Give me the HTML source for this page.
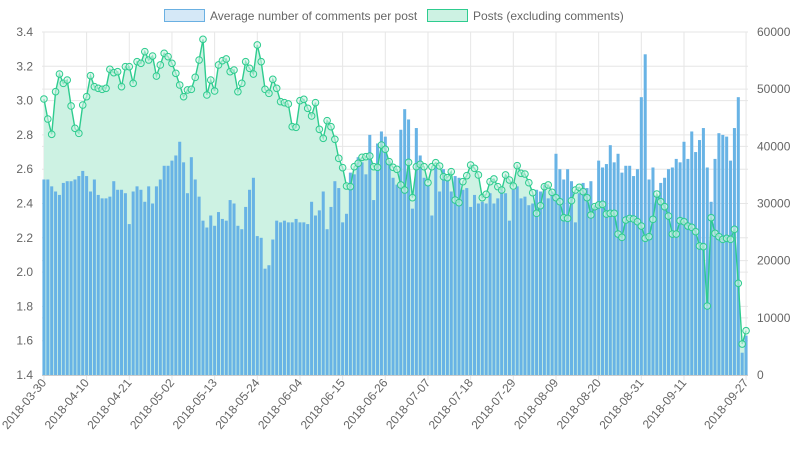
<!DOCTYPE html>
<html><head><meta charset="utf-8">
<style>
html,body{margin:0;padding:0;background:#fff;}
svg{display:block;font-family:"Liberation Sans",Arial,sans-serif;}
</style></head>
<body>
<svg id="chart" width="798" height="450" viewBox="0 0 798 450" xmlns="http://www.w3.org/2000/svg">
  <g id="legend">
    <g>
      <rect x="164.5" y="9.5" width="40" height="12" fill="#d5e8f7" stroke="#6ab0e2" stroke-width="1"></rect>
      <text x="210" y="20" font-size="12" fill="#666">Average number of comments per post</text>
    </g>
    <g>
      <rect x="427.5" y="9.5" width="40" height="12" fill="#cdf2e3" stroke="#2ecc8f" stroke-width="1"></rect>
      <text x="473" y="20" font-size="12" fill="#666">Posts (excluding comments)</text>
    </g>
  </g>
  <g id="grid"></g>
  <g id="fill"></g>
  <g id="bars"></g>
  <g id="line"></g>
  <g id="axes"></g>
</svg>
<script>
const startDate = "2018-03-30";
const avgComments = [
2.54,2.54,2.50,2.47,2.45,2.52,2.53,2.53,2.54,2.56,2.59,2.56,2.47,2.54,2.45,2.43,2.43,2.44,2.53,2.48,2.48,2.46,2.28,2.47,2.50,2.48,2.41,2.50,2.40,2.50,2.54,
2.62,2.62,2.65,2.68,2.76,2.64,2.46,2.67,2.54,2.44,2.30,2.26,2.33,2.27,2.35,2.31,2.30,2.42,2.40,2.27,2.25,2.38,2.48,2.55,2.21,2.20,2.02,2.04,2.19,2.30,2.29,
2.30,2.29,2.29,2.31,2.29,2.29,2.28,2.41,2.33,2.36,2.47,2.25,2.38,2.53,2.49,2.29,2.34,2.58,2.57,2.67,2.64,2.57,2.80,2.42,2.75,2.82,2.79,2.65,2.55,2.51,2.83,
2.95,2.89,2.37,2.84,2.68,2.55,2.51,2.33,2.62,2.47,2.60,2.54,2.47,2.56,2.55,2.48,2.49,2.38,2.45,2.40,2.41,2.40,2.46,2.40,2.43,2.48,2.46,2.30,2.48,2.50,2.43,
2.44,2.39,2.40,2.48,2.47,2.51,2.43,2.47,2.69,2.60,2.54,2.60,2.53,2.29,2.46,2.52,2.49,2.53,2.39,2.65,2.61,2.63,2.74,2.64,2.69,2.58,2.62,2.62,2.56,2.60,3.02,
3.27,2.54,2.61,2.45,2.52,2.55,2.60,2.61,2.66,2.64,2.76,2.66,2.82,2.70,2.77,2.84,2.61,2.41,2.66,2.81,2.80,2.79,2.65,2.84,3.02,1.53,1.63];
const posts = [
48280,44780,42100,49560,52650,51020,51600,47060,43150,42270,47230,48690,52360,50440,50150,49970,50150,53470,52890,53060,50440,53940,53940,51020,54810,54520,56560,55100,55800,52300,54230,
56270,55690,54520,52770,50730,48690,49860,49970,52070,55100,58720,48980,51600,49680,54230,54990,55280,53060,53350,49560,51020,54810,53650,52650,57730,54810,49970,49270,51720,50150,47820,
47640,47410,43440,43330,47990,48220,46650,45310,47640,42980,41400,44490,43440,41230,37900,36270,33060,32950,36440,37030,38080,38190,38310,36440,36330,40230,39480,37320,36330,35980,33240,
32360,37200,31020,36440,36850,36440,33640,36440,37140,36560,34690,34520,35570,30610,30150,33820,34870,36730,36150,34990,31020,31600,33820,34290,32950,32360,34990,34110,33060,36620,35280,
35160,33640,31890,28280,29620,32950,33240,31950,31020,30320,27520,27400,30500,32360,32830,32070,31020,27990,29450,29740,29850,28160,28280,28280,24660,24080,27110,27400,27290,26820,26060,
23910,24200,27230,31660,30320,29450,27810,24660,24660,26990,26820,26060,25830,25070,22570,22450,12070,27520,24780,24200,23730,23910,23730,25480,16040,5420,7750];
const leftTicks = [1.4,1.6,1.8,2.0,2.2,2.4,2.6,2.8,3.0,3.2,3.4];
const rightTicks = [0,10000,20000,30000,40000,50000,60000];
const labelIdx = [0,11,22,33,44,55,66,77,88,99,110,121,132,143,154,165,181];

const NS="http://www.w3.org/2000/svg";
const L=42,R=748,T=32,B=375;
const n=avgComments.length;
const slot=(R-L)/n;
function xAt(i){return L+(i+0.5)*slot;}
function yL(v){return B-(v-1.4)/(3.4-1.4)*(B-T);}
function yR(v){return B-v/60000*(B-T);}
function mk(tag,attrs,parent){const e=document.createElementNS(NS,tag);for(const k in attrs)e.setAttribute(k,attrs[k]);parent.appendChild(e);return e;}
function dateLabel(i){const d=new Date(startDate+"T00:00:00Z");d.setUTCDate(d.getUTCDate()+i);return d.toISOString().slice(0,10);}

const grid=document.getElementById('grid');
leftTicks.forEach(t=>{const l=mk('line',{x1:L,x2:R,y1:yL(t),y2:yL(t),stroke:'#e6e6e6','stroke-width':1},grid);

});
rightTicks.forEach(t=>{const l=mk('line',{x1:L,x2:R,y1:yR(t),y2:yR(t),stroke:'#e6e6e6','stroke-width':1},grid);

});
labelIdx.forEach(i=>{const l=mk('line',{x1:xAt(i),x2:xAt(i),y1:T,y2:B+5,stroke:'#e6e6e6','stroke-width':1},grid);

});

let d='M'+xAt(0)+','+yR(0);
posts.forEach((v,i)=>{d+=' L'+xAt(i)+','+yR(v);});
d+=' L'+xAt(n-1)+','+yR(0)+' Z';
const area=mk('path',{d:d,fill:'#cdf2e3'},document.getElementById('fill'));



const bars=document.getElementById('bars');
const bw=slot*0.78;
avgComments.forEach((v,i)=>{const y=yL(v);
const r=mk('rect',{x:xAt(i)-bw/2,y:y,width:bw,height:B-y,fill:'#68b3e5'},bars);

});

const lg=document.getElementById('line');
let pd='';
posts.forEach((v,i)=>{pd+=(i?' L':'M')+xAt(i)+','+yR(v);});
const pl=mk('path',{d:pd,fill:'none',stroke:'#2ecc8f','stroke-width':1.4},lg);


posts.forEach((v,i)=>{const c=mk('circle',{cx:xAt(i),cy:yR(v),r:3.3,fill:'rgba(205,242,227,0.6)',stroke:'#2ecc8f','stroke-width':1},lg);

});

const ax=document.getElementById('axes');
const bl=mk('line',{x1:L,x2:R,y1:B+0.5,y2:B+0.5,stroke:'#cccccc','stroke-width':1},ax);


leftTicks.forEach(t=>{const tx=mk('text',{x:33,y:yL(t)+4,'font-size':12,fill:'#666','text-anchor':'end'},ax);
tx.textContent=t.toFixed(1);

});
rightTicks.forEach(t=>{const tx=mk('text',{x:757,y:yR(t)+4,'font-size':12,fill:'#666','text-anchor':'start'},ax);
tx.textContent=String(t);

});
labelIdx.forEach(i=>{const x=xAt(i)+3,y=B+8;
const tx=mk('text',{x:x,y:y,'font-size':12,fill:'#666','text-anchor':'end',transform:'rotate(-50 '+x+' '+y+')'},ax);
tx.textContent=dateLabel(i);

});
</script>
</body></html>
